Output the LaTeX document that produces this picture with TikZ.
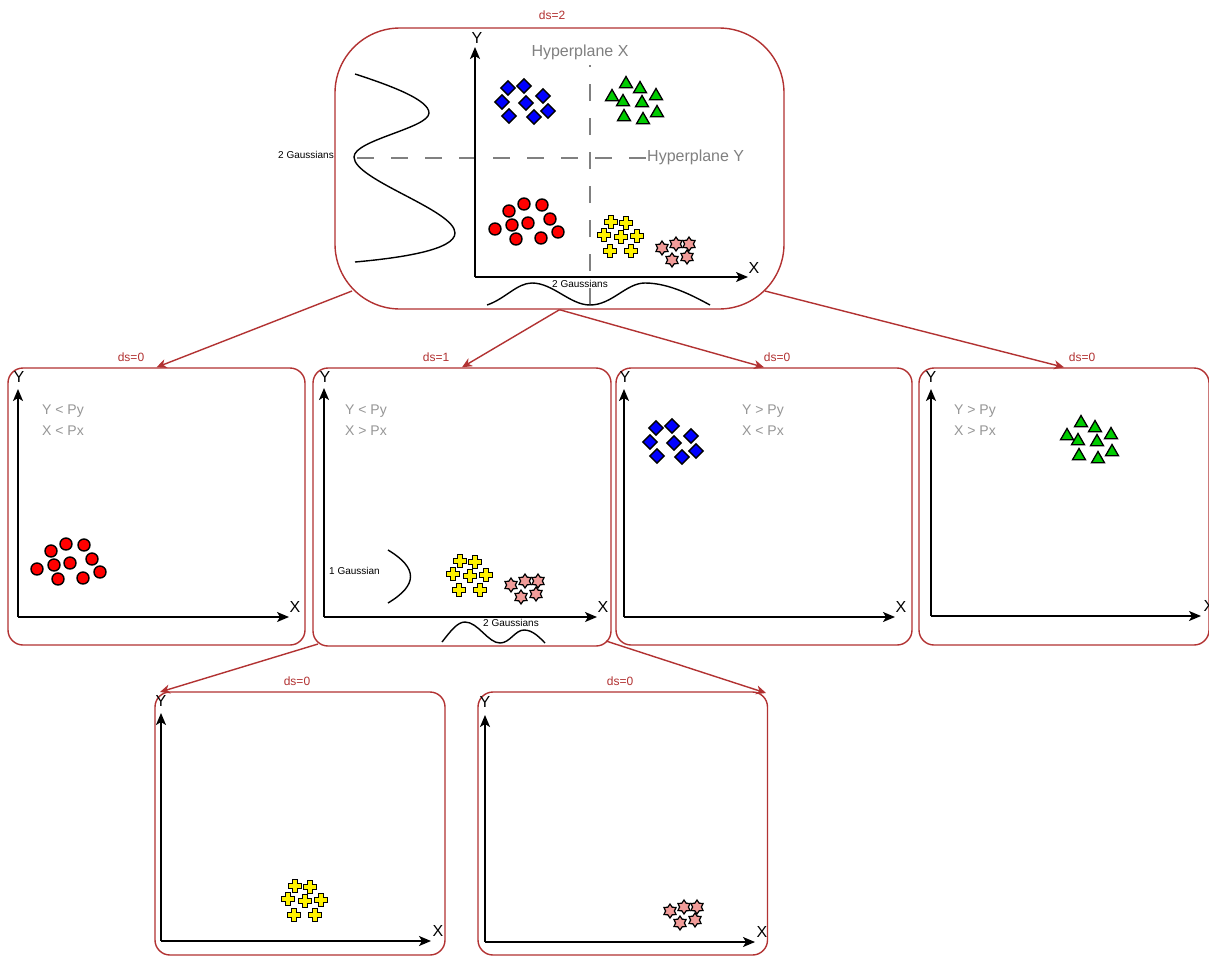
\documentclass[tikz,border=0pt]{standalone}
\usepackage{fontspec}
\setmainfont{Liberation Sans}
\usetikzlibrary{shapes.geometric,arrows.meta}
\definecolor{boxred}{RGB}{178,50,50}
\definecolor{hgray}{RGB}{128,128,128}
\definecolor{cgray}{RGB}{150,150,150}
\definecolor{starpink}{RGB}{241,156,153}
\definecolor{tgreen}{RGB}{0,204,0}
\newcommand\redpts{(524,204),(542,205),(509,211),(550,219),(495,229),(512,225),(528,223),(558,232),(516,239),(541,238)}
\newcommand\bluepts{(508,88),(524,86),(543,96),(502,102),(526,103),(548,111),(509,116),(534,117)}
\newcommand\greenpts{(626,84),(640,89),(656,96),(612,97),(623,102),(642,103),(624,117),(643,120),(657,113)}
\newcommand\crosspts{(611,222),(626,223),(604,235),(621,237),(637,236),(610,251),(631,251)}
\newcommand\starpts{(0,0),(14,-4),(27,-4),(25,9),(10,12)}
\begin{document}
\begin{tikzpicture}[x=1pt,y=-1pt,
  box/.style={draw=boxred, line width=1.4pt, rounded corners=15pt, inner sep=0pt},
  conn/.style={draw=boxred, line width=1.4pt, -{Stealth[length=10pt,width=9pt,inset=3pt]}},
  axarrow/.style={draw=black, line width=1.5pt, -{Stealth[length=12pt,width=10pt,inset=3pt]}},
  dsl/.style={text=boxred, font=\fontsize{12}{14}\selectfont, inner sep=0pt},
  axl/.style={font=\fontsize{16}{19}\selectfont, inner sep=0pt},
  cond/.style={text=cgray, font=\fontsize{14}{17}\selectfont, inner sep=0pt, anchor=west},
  gl/.style={font=\fontsize{10}{12}\selectfont, inner sep=0pt},
  gcurve/.style={draw=black, line width=1.4pt},
  hyp/.style={draw=hgray, line width=1.5pt, dash pattern=on 17pt off 17pt},
  hyptext/.style={text=hgray, font=\fontsize{16}{19}\selectfont, inner sep=0pt},
  dotm/.style={circle, draw=black, fill=red, line width=1.4pt, minimum size=12pt, inner sep=0pt},
  diam/.style={diamond, draw=black, fill=blue, line width=1.4pt, minimum width=15pt, minimum height=15pt, inner sep=0pt},
  tri/.style={regular polygon, regular polygon sides=3, draw=black, fill=tgreen, line width=1.3pt, minimum size=15pt, inner sep=0pt},
  starm/.style={star, star points=6, star point ratio=1.6, draw=black, fill=starpink, line width=1.2pt, minimum size=14pt, inner sep=0pt},
  plusm/.pic={\draw[black, fill=yellow, line width=1.4pt] (-2.6,-6.6) -- (2.6,-6.6) -- (2.6,-2.6) -- (6.6,-2.6) -- (6.6,2.6) -- (2.6,2.6) -- (2.6,6.6) -- (-2.6,6.6) -- (-2.6,2.6) -- (-6.6,2.6) -- (-6.6,-2.6) -- (-2.6,-2.6) -- cycle;}
]
\useasboundingbox[fill=white] (0,0) rectangle (1209,956);

% ---------- boxes ----------
\node[box, rounded corners=65pt, minimum width=449pt, minimum height=281pt] (top) at (559.5,168.5) {};
\node[box, minimum width=297pt, minimum height=277pt] (b1) at (156.5,506.5) {};
\node[box, minimum width=298pt, minimum height=278pt] (b2) at (462,507) {};
\node[box, minimum width=296pt, minimum height=277pt] (b3) at (764,506.5) {};
\node[box, minimum width=290pt, minimum height=277pt] (b4) at (1064,506.5) {};
\node[box, minimum width=290pt, minimum height=263pt] (b5) at (300,823.5) {};
\node[box, minimum width=289.5pt, minimum height=263pt] (b6) at (622.75,823.5) {};

% ---------- ds labels ----------
\node[dsl] (ds0) at (552,15) {ds=2};
\node[dsl] (ds1) at (131,357) {ds=0};
\node[dsl] (ds2) at (436,357) {ds=1};
\node[dsl] (ds3) at (777,357) {ds=0};
\node[dsl] (ds4) at (1082,357) {ds=0};
\node[dsl] (ds5) at (297,681) {ds=0};
\node[dsl] (ds6) at (620,681) {ds=0};

% ---------- connectors ----------
\coordinate (c1s) at (352,291);
\coordinate (c4s) at (765,291);
\coordinate (c5s) at (318,644);
\coordinate (c5e) at (160,692);
\coordinate (c6s) at (606,641);
\coordinate (c6e) at (766,693);
\draw[conn] (c1s) -- (b1.north);
\draw[conn] (top.south) -- (b2.north);
\draw[conn] (top.south) -- (b3.north);
\draw[conn] (c4s) -- (b4.north);
\draw[conn] (c5s) -- (c5e);
\draw[conn] (c6s) -- (c6e);

% ---------- top box content ----------
\coordinate (hxa) at (590,305);
\coordinate (hxb) at (590,65);
\coordinate (hya) at (357,158);
\coordinate (hyb) at (646,158);
\draw[hyp] (hxa) -- (hxb);
\draw[hyp] (hya) -- (hyb);
\node[hyptext] (hpx) at (580,52) {Hyperplane X};
\node[hyptext, anchor=west] (hpy) at (647,157) {Hyperplane Y};

\coordinate (o0) at (475,277);
\coordinate (y0) at (475,47);
\coordinate (x0) at (748,277);
\draw[axarrow] (o0) -- (y0);
\draw[axarrow] (o0) -- (x0);
\node[axl] (ly0) at (477,38) {Y};
\node[axl] (lx0) at (754,268) {X};

\draw[gcurve] (355,74) .. controls (392,86) and (429,100) .. (429,113)
  .. controls (429,128) and (354,140) .. (354,157)
  .. controls (354,180) and (455,210) .. (455,233)
  .. controls (455,250) and (400,258) .. (355,262);
\node[gl, anchor=east] (g0a) at (334,155) {2 Gaussians};

\draw[gcurve] (487,305) .. controls (505,299) and (517,283) .. (532,283)
  .. controls (553,283) and (570,305) .. (590,305)
  .. controls (612,305) and (626,283) .. (645,283)
  .. controls (670,283) and (695,297) .. (710,305);
\node[gl] (g0b) at (580,284) {2 Gaussians};

\foreach \p [count=\i] in \bluepts {\node[diam] (da\i) at \p {};}
\foreach \p [count=\i] in \greenpts {\node[tri] (ta\i) at \p {};}
\foreach \p [count=\i] in \redpts {\node[dotm] (ra\i) at \p {};}
\foreach \p in \crosspts {\pic at \p {plusm};}
\begin{scope}[shift={(662,248)}]
\foreach \p [count=\i] in \starpts {\node[starm] (sa\i) at \p {};}
\end{scope}

% ---------- box 1 ----------
\coordinate (o1) at (18,617);
\coordinate (y1) at (18,389);
\coordinate (x1) at (289,617);
\draw[axarrow] (o1) -- (y1);
\draw[axarrow] (o1) -- (x1);
\node[axl] (ly1) at (19,377) {Y};
\node[axl] (lx1) at (295,607) {X};
\node[cond] (cy1) at (42,411) {Y < Py};
\node[cond] (cx1) at (42,431) {X < Px};
\begin{scope}[shift={(-458,340)}]
\foreach \p [count=\i] in \redpts {\node[dotm] (rb\i) at \p {};}
\end{scope}

% ---------- box 2 ----------
\coordinate (o2) at (324,617);
\coordinate (y2) at (324,388);
\coordinate (x2) at (597,617);
\draw[axarrow] (o2) -- (y2);
\draw[axarrow] (o2) -- (x2);
\node[axl] (ly2) at (325,377) {Y};
\node[axl] (lx2) at (603,607) {X};
\node[cond] (cy2) at (345,411) {Y < Py};
\node[cond] (cx2) at (345,431) {X > Px};
\draw[gcurve] (388,550) .. controls (418,568) and (418,585) .. (388,603);
\node[gl, anchor=west] (g2a) at (329,571) {1 Gaussian};
\draw[gcurve] (442,642) .. controls (450,632) and (457,622) .. (465,622)
  .. controls (478,622) and (488,643) .. (500,643)
  .. controls (510,643) and (515,630) .. (524,630)
  .. controls (533,630) and (540,638) .. (545,643);
\node[gl, anchor=west] (g2b) at (483,623) {2 Gaussians};
\begin{scope}[shift={(-151,339)}]
\foreach \p in \crosspts {\pic at \p {plusm};}
\end{scope}
\begin{scope}[shift={(511,585)}]
\foreach \p [count=\i] in \starpts {\node[starm] (sb\i) at \p {};}
\end{scope}

% ---------- box 3 ----------
\coordinate (o3) at (624,617);
\coordinate (y3) at (624,389);
\coordinate (x3) at (895,617);
\draw[axarrow] (o3) -- (y3);
\draw[axarrow] (o3) -- (x3);
\node[axl] (ly3) at (625,377) {Y};
\node[axl] (lx3) at (901,607) {X};
\node[cond] (cy3) at (742,411) {Y > Py};
\node[cond] (cx3) at (742,431) {X < Px};
\begin{scope}[shift={(148,340)}]
\foreach \p [count=\i] in \bluepts {\node[diam] (db\i) at \p {};}
\end{scope}

% ---------- box 4 ----------
\coordinate (o4) at (931,616);
\coordinate (y4) at (931,389);
\coordinate (x4) at (1201,616);
\draw[axarrow] (o4) -- (y4);
\draw[axarrow] (o4) -- (x4);
\node[axl] (ly4) at (931,377) {Y};
\node[axl] (lx4) at (1209,606) {X};
\node[cond] (cy4) at (954,411) {Y > Py};
\node[cond] (cx4) at (954,431) {X > Px};
\begin{scope}[shift={(455,339)}]
\foreach \p [count=\i] in \greenpts {\node[tri] (tb\i) at \p {};}
\end{scope}

% ---------- box 5 ----------
\coordinate (o5) at (161,941);
\coordinate (y5) at (161,713);
\coordinate (x5) at (431,941);
\draw[axarrow] (o5) -- (y5);
\draw[axarrow] (o5) -- (x5);
\node[axl] (ly5) at (161,701) {Y};
\node[axl] (lx5) at (438,931) {X};
\begin{scope}[shift={(-316,664)}]
\foreach \p in \crosspts {\pic at \p {plusm};}
\end{scope}

% ---------- box 6 ----------
\coordinate (o6) at (485,942);
\coordinate (y6) at (485,715);
\coordinate (x6) at (755,942);
\draw[axarrow] (o6) -- (y6);
\draw[axarrow] (o6) -- (x6);
\node[axl] (ly6) at (485,702) {Y};
\node[axl] (lx6) at (762,932) {X};
\begin{scope}[shift={(670,911)}]
\foreach \p [count=\i] in \starpts {\node[starm] (sc\i) at \p {};}
\end{scope}
\end{tikzpicture}
\end{document}
